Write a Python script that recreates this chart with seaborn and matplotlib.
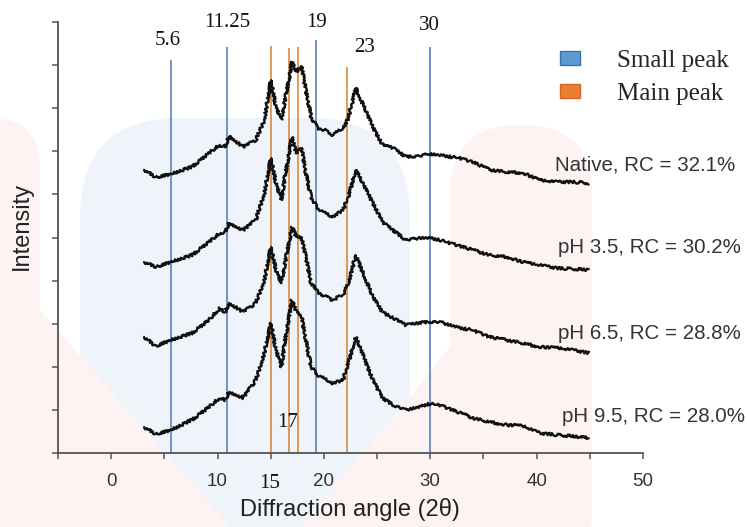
import numpy as np
import pandas as pd
import matplotlib.pyplot as plt
import seaborn as sns
from matplotlib.patches import Patch, FancyBboxPatch, Polygon
from matplotlib.ticker import MultipleLocator

# Diffraction angle (2 theta) sampled along each trace
two_theta = [3.1, 4.2, 5.6, 7.6, 9.2, 10.2, 10.7, 11.1, 12.4, 13.6, 14.4, 15.0,
             15.5, 16.0, 16.4, 17.0, 17.4, 17.9, 18.3, 18.8, 19.4, 20.1, 20.8,
             21.8, 22.3, 23.0, 24.6, 25.5, 26.5, 27.7, 29.0, 29.9, 30.9, 32.8,
             34.0, 35.6, 37.2, 38.7, 40.3, 41.9, 43.4, 44.9]

# Stacked intensities (arbitrary units, offset per sample)
native = [6.57, 6.40, 6.47, 6.64, 6.96, 7.15, 7.10, 7.36, 7.10, 7.26, 7.73, 8.65,
          8.03, 7.73, 8.26, 9.07, 8.84, 8.96, 8.42, 7.80, 7.54, 7.49, 7.38,
          7.54, 7.77, 8.47, 7.56, 7.15, 7.08, 6.87, 6.89, 6.94, 6.91, 6.84,
          6.75, 6.57, 6.52, 6.50, 6.33, 6.29, 6.29, 6.26]
ph35 = [4.43, 4.32, 4.43, 4.59, 4.90, 5.10, 5.13, 5.34, 5.17, 5.41, 6.03, 6.84,
        6.26, 5.87, 6.50, 7.33, 6.96, 7.08, 6.50, 5.94, 5.68, 5.57, 5.48,
        5.64, 5.94, 6.57, 5.80, 5.36, 5.17, 4.94, 4.99, 4.99, 4.94, 4.80,
        4.71, 4.59, 4.55, 4.43, 4.36, 4.29, 4.27, 4.25]
ph65 = [2.69, 2.48, 2.62, 2.78, 3.09, 3.36, 3.27, 3.48, 3.27, 3.48, 4.01, 4.78,
        4.25, 3.94, 4.48, 5.24, 5.03, 4.99, 4.55, 3.94, 3.74, 3.64, 3.55,
        3.67, 3.94, 4.59, 3.62, 3.27, 3.13, 2.97, 3.02, 3.04, 3.04, 2.90,
        2.85, 2.69, 2.62, 2.55, 2.46, 2.44, 2.39, 2.32]
ph95 = [0.60, 0.44, 0.53, 0.77, 1.07, 1.28, 1.23, 1.42, 1.28, 1.69, 2.32, 3.02,
        2.39, 2.00, 2.69, 3.55, 3.27, 3.16, 2.62, 2.00, 1.81, 1.72, 1.62,
        1.69, 2.09, 2.69, 1.69, 1.28, 1.11, 1.00, 1.07, 1.14, 1.11, 0.93,
        0.81, 0.72, 0.65, 0.63, 0.46, 0.42, 0.39, 0.35]

samples = ['Native', 'pH 3.5', 'pH 6.5', 'pH 9.5']
sample_labels = ['Native, RC = 32.1%', 'pH 3.5, RC = 30.2%',
                 'pH 6.5, RC = 28.8%', 'pH 9.5, RC = 28.0%']

# Reference peak lines
small_peaks = [5.6, 10.85, 19.3, 30.0]
small_tops = [9.12, 9.42, 9.58, 9.42]
main_peaks = [15.05, 16.7, 17.6, 22.2]
main_tops = [9.44, 9.40, 9.42, 8.96]
peak_labels = ['5.6', '11.25', '15', '17', '19', '23', '30']

df = pd.DataFrame({
    'two_theta': two_theta * 4,
    'intensity': native + ph35 + ph65 + ph95,
    'sample': np.repeat(samples, len(two_theta)),
})

sns.set_theme(style='ticks')
plt.rcParams['font.family'] = ['Liberation Sans', 'DejaVu Sans']

fig = plt.figure(figsize=(7.47, 5.27), dpi=100)
ax = fig.add_axes([0.0776, 0.1404, 0.7831, 0.8178])
ax.set_facecolor('none')

# faint background shapes seen behind the chart
pink = '#fdf3f3'
bg = [
    FancyBboxPatch((0.80, -0.5), 3.30, 4.59, boxstyle='round,pad=0,rounding_size=1.0',
                   fc='#eef4f9', ec='none'),
    FancyBboxPatch((-0.6, -0.5), 1.0, 4.59, boxstyle='round,pad=0,rounding_size=0.5',
                   fc=pink, ec='none'),
    Polygon([(0, 2.17), (0.4, 2.17), (2.3, 0), (0, 0)], fc=pink, ec='none'),
    FancyBboxPatch((4.50, -0.5), 1.42, 4.52, boxstyle='round,pad=0,rounding_size=0.7',
                   fc=pink, ec='none'),
    Polygon([(3.0, 0), (4.1, 1.3), (4.5, 1.8), (5.92, 1.8), (5.92, 1.6), (4.7, 0)],
            fc=pink, ec='none'),
]
for p in bg:
    p.set_transform(fig.dpi_scale_trans)
    p.set_zorder(-5)
    fig.patches.append(p)

ax.vlines(small_peaks, 0, small_tops, colors='#5b82b9', linewidth=1.2, zorder=2)
ax.vlines(main_peaks, 0, main_tops, colors='#d98a3e', linewidth=1.2, zorder=2)

sns.lineplot(data=df, x='two_theta', y='intensity', hue='sample',
             palette=['#111111'] * 4, legend=False, estimator=None, sort=False,
             linewidth=1.7, ax=ax, zorder=3)
for line in ax.lines:
    line.set_sketch_params(1.3, 3, 3)

label_xy = [(5.3, 9.58), (10.9, 10.0), (14.9, -0.70), (16.6, 0.70),
            (19.3, 10.0), (23.8, 9.40), (29.95, 9.93)]
for txt, (x, y) in zip(peak_labels, label_xy):
    ax.text(x, y, txt, ha='center', va='center', fontsize=15,
            family='Liberation Serif', color='#111111', clip_on=False)

sample_xy = [(41.7, 6.68), (42.0, 4.78), (42.0, 2.78), (42.4, 0.84)]
for txt, (x, y) in zip(sample_labels, sample_xy):
    ax.text(x, y, txt, ha='left', va='center', fontsize=14.8,
            color='#333333', clip_on=False)

ax.set_xlim(-5, 50)
ax.set_ylim(0, 10)
ax.xaxis.set_major_locator(MultipleLocator(10))
ax.xaxis.set_minor_locator(MultipleLocator(5))
ax.yaxis.set_major_locator(MultipleLocator(1))
ax.set_yticklabels([])
ax.tick_params(axis='both', which='both', direction='out', length=4.5, width=1.1,
               color='#555555', labelsize=13.5, labelcolor='#333333')
ax.tick_params(axis='x', pad=10)
for s in ['top', 'right']:
    ax.spines[s].set_visible(False)
for s in ['left', 'bottom']:
    ax.spines[s].set_color('#555555')
    ax.spines[s].set_linewidth(1.3)

ax.set_xlabel('Diffraction angle (2θ)', fontsize=17, color='#222222', va='center')
ax.xaxis.set_label_coords(0.499, -0.132)
ax.set_ylabel('Intensity', fontsize=17, color='#222222', va='center')
ax.yaxis.set_label_coords(-0.0615, 0.527)

handles = [Patch(facecolor='#5b9bd5', edgecolor='#41719c', label='Small peak'),
           Patch(facecolor='#ed7d31', edgecolor='#d0692a', label='Main peak')]
ax.legend(handles=handles, loc='upper left', bbox_to_anchor=(0.749, 0.906),
          bbox_transform=fig.transFigure, frameon=False,
          prop={'family': 'Liberation Serif', 'size': 18},
          handlelength=0.8, handleheight=0.5, handletextpad=1.5,
          labelspacing=0.45, borderpad=0, borderaxespad=0)

plt.savefig('out.png', dpi=100)
